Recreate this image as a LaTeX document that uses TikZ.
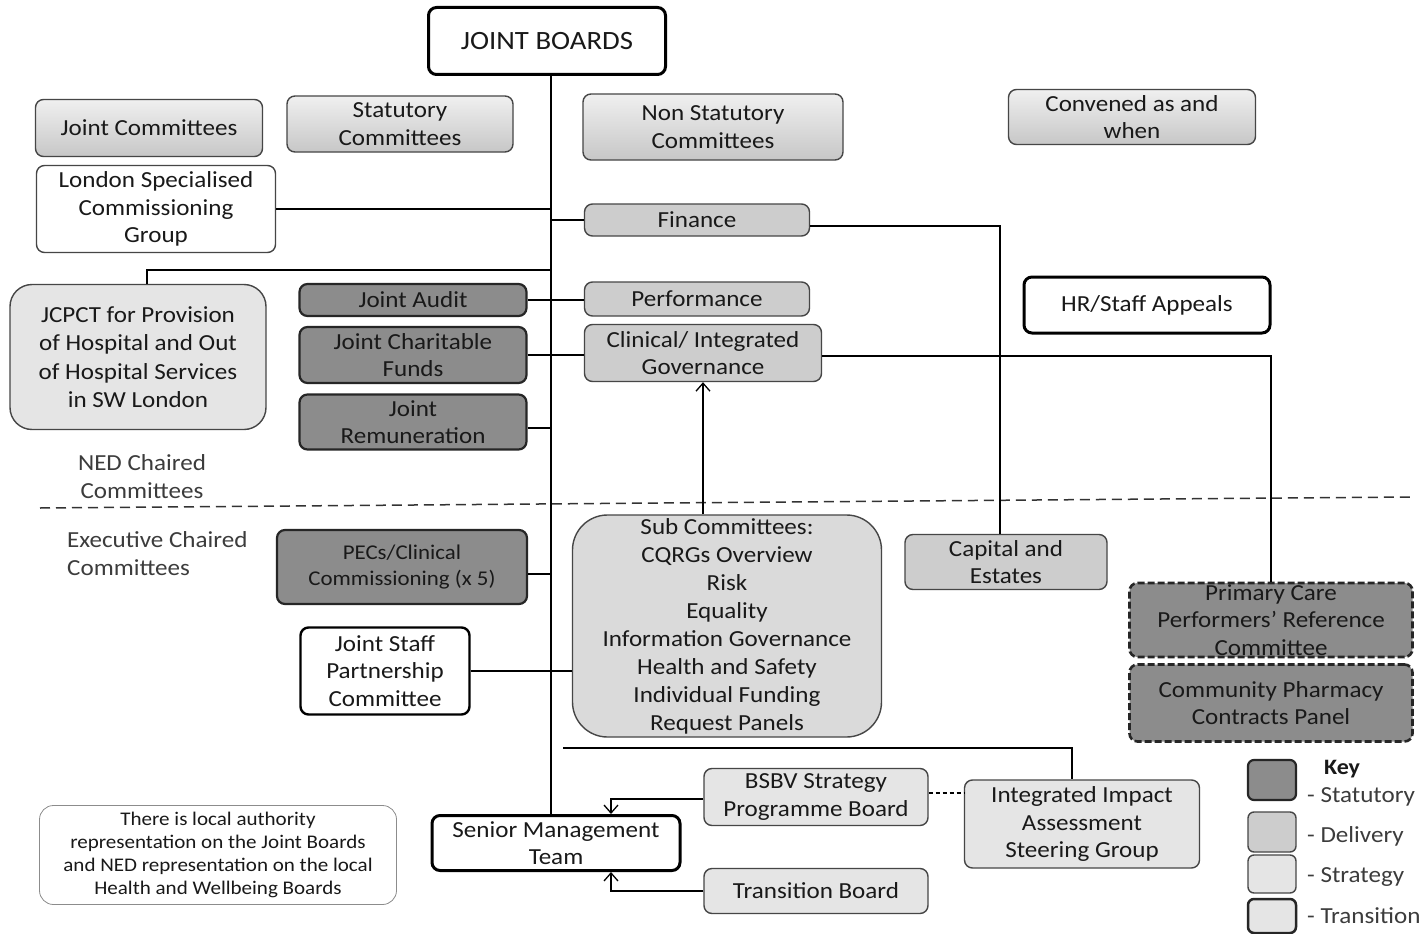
\documentclass[tikz,border=0pt]{standalone}
\usepackage{fontspec}
\setmainfont{Carlito}[FakeStretch=1.09]
\usetikzlibrary{arrows.meta}
\definecolor{statfill}{RGB}{140,140,140}
\definecolor{delivfill}{RGB}{205,205,205}
\definecolor{stratfill}{RGB}{229,229,229}
\definecolor{subfill}{RGB}{218,218,218}
\definecolor{bordc}{RGB}{70,70,70}
\definecolor{labc}{RGB}{60,60,60}
\definecolor{txtc}{RGB}{25,25,25}
\begin{document}
\begin{tikzpicture}[x=1pt,y=-1pt,
  box/.style={draw=bordc, line width=1.4pt, rounded corners=8pt, inner sep=0pt, align=center, text=txtc, font=\fontsize{23}{27.5}\selectfont},
  stat/.style={box, fill=statfill, draw=black!85, line width=2.2pt},
  deliv/.style={box, fill=delivfill},
  strat/.style={box, fill=stratfill},
  grad/.style={box, top color=white!94!black, bottom color=black!22},
  thickbox/.style={box, fill=white, draw=black, line width=3pt},
  plainbox/.style={box, fill=white},
  dashbox/.style={box, fill=statfill, draw=black!85, line width=2.6pt, dash pattern=on 7pt off 3pt},
  conn/.style={draw=black, line width=1.2pt},
  arr/.style={conn, -{Straight Barb[length=8pt,width=14pt,line width=1.3pt]}},
  lbl/.style={inner sep=0pt, align=center, font=\fontsize{23}{28}\selectfont, text=labc}
]
\useasboundingbox (0,0) rectangle (1422,934);
\fill[white] (0,0) rectangle (1422,934);

% top row
\node[thickbox, minimum width=237pt, minimum height=67pt, font=\fontsize{26.4}{30}\selectfont] (jb) at (547,41) {JOINT BOARDS};
\node[grad, minimum width=227pt, minimum height=57pt] (jc) at (149,128) {Joint Committees};
\node[grad, minimum width=226pt, minimum height=56pt] (sc) at (400,124) {Statutory\\Committees};
\node[grad, minimum width=260pt, minimum height=66pt] (nsc) at (713,127) {Non Statutory\\Committees};
\node[grad, minimum width=247pt, minimum height=55pt] (cav) at (1132,117) {Convened as and\\when};

% NED chaired area
\node[plainbox, minimum width=239pt, minimum height=87pt] (lscg) at (156,209) {London Specialised\\Commissioning\\Group};
\node[deliv, minimum width=225pt, minimum height=32pt] (fin) at (697,220) {Finance};
\node[strat, rounded corners=22pt, minimum width=256pt, minimum height=145pt, font=\fontsize{23}{28.5}\selectfont] (jcpct) at (138,357) {JCPCT for Provision\\of Hospital and Out\\of Hospital Services\\in SW London};
\node[stat, minimum width=227pt, minimum height=32pt] (ja) at (413,300) {Joint Audit};
\node[stat, minimum width=227pt, minimum height=56pt] (jcf) at (413,355) {Joint Charitable\\Funds};
\node[stat, minimum width=227pt, minimum height=55pt] (jr) at (413,422) {Joint\\Remuneration};
\node[deliv, minimum width=225pt, minimum height=34pt] (perf) at (697,299) {Performance};
\node[deliv, minimum width=237pt, minimum height=57pt] (cig) at (703,353) {Clinical/ Integrated\\Governance};
\node[thickbox, minimum width=246pt, minimum height=56pt] (hr) at (1147,305) {HR/Staff Appeals};
\node[lbl] (ned) at (142,477) {NED Chaired\\Committees};

% divider
\draw[line width=1.5pt, draw=black!80, dash pattern=on 10pt off 6pt] (40,508) -- (1410,497);

% Executive chaired area
\node[lbl, align=left, anchor=west] (exec) at (67,554) {Executive Chaired\\Committees};
\node[stat, minimum width=250pt, minimum height=74pt, font=\fontsize{21}{26}\selectfont] (pecs) at (402,567) {PECs/Clinical\\Commissioning (x 5)};
\node[plainbox, draw=black, line width=2.4pt, minimum width=169pt, minimum height=87pt] (jspc) at (385,671) {Joint Staff\\Partnership\\Committee};
\node[box, fill=subfill, rounded corners=35pt, minimum width=309pt, minimum height=222pt, font=\fontsize{23}{28}\selectfont] (sub) at (727,626) {Sub Committees:\\CQRGs Overview\\Risk\\Equality\\Information Governance\\Health and Safety\\Individual Funding\\Request Panels};
\node[deliv, minimum width=202pt, minimum height=55pt] (cap) at (1006,562) {Capital and\\Estates};
\node[dashbox, minimum width=283pt, minimum height=74pt] (pcp) at (1271,620) {Primary Care\\Performers' Reference\\Committee};
\node[dashbox, minimum width=283pt, minimum height=77pt] (cpp) at (1271,703) {Community Pharmacy\\Contracts Panel};

% bottom area
\node[strat, minimum width=224pt, minimum height=57pt] (bsbv) at (816,797) {BSBV Strategy\\Programme Board};
\node[strat, minimum width=235pt, minimum height=88pt] (iia) at (1082,824) {Integrated Impact\\Assessment\\Steering Group};
\node[thickbox, minimum width=248pt, minimum height=55pt] (smt) at (556,843) {Senior Management\\Team};
\node[strat, minimum width=224pt, minimum height=45pt] (tb) at (816,891) {Transition Board};
\node[box, draw=black!45, line width=0.8pt, fill=white, rounded corners=14pt, minimum width=357pt, minimum height=99pt, font=\fontsize{19.3}{23}\selectfont] (note) at (218,855) {There is local authority\\representation on the Joint Boards\\and NED representation on the local\\Health and Wellbeing Boards};

% key
\node[stat, rounded corners=6pt, minimum width=48pt, minimum height=40pt] (k1) at (1272,780) {};
\node[deliv, rounded corners=6pt, minimum width=48pt, minimum height=40pt] (k2) at (1272,832) {};
\node[strat, rounded corners=6pt, minimum width=48pt, minimum height=38pt] (k3) at (1272,874) {};
\node[box, fill=stratfill, draw=black!85, line width=2.5pt, rounded corners=6pt, minimum width=48pt, minimum height=34pt] (k4) at (1272,916) {};
\node[lbl, anchor=west, text=txtc, font=\fontsize{22}{28}\selectfont\bfseries] (kt) at (1324,769) {Key};
\node[lbl, anchor=west] (kl1) at (1307,797) {- Statutory};
\node[lbl, anchor=west] (kl2) at (1307,836) {- Delivery};
\node[lbl, anchor=west] (kl3) at (1307,877) {- Strategy};
\node[lbl, anchor=west] (kl4) at (1307,916) {- Transition};

% connectors
\coordinate (spine) at (551,0);
\coordinate (jtop) at (147,270);
\coordinate (hl) at (563,748);
\coordinate (ax) at (611,0);
\draw[conn] (jb.south -| spine) -- (smt.north -| spine);
\draw[conn] (lscg.east) -- (lscg.east -| spine);
\draw[conn] (fin.west -| spine) -- (fin.west);
\draw[conn] (jcpct.north -| jtop) -- (jtop) -- (jtop -| spine);
\draw[conn] (ja.east) -- (ja.east -| perf.west);
\draw[conn] (jcf.east) -- (jcf.east -| cig.west);
\draw[conn] ([yshift=-6pt]jr.east) -- ([yshift=-6pt]jr.east -| spine);
\draw[conn] ([yshift=-6pt]fin.east) -| ([xshift=-6pt]cap.north);
\draw[conn] ([yshift=-3pt]cig.east) -| (pcp.north);
\draw[arr] (sub.north -| cig.south) -- (cig.south);
\draw[conn] ([yshift=-7pt]pecs.east) -- ([yshift=-7pt]pecs.east -| spine);
\draw[conn] (jspc.east) -- (jspc.east -| sub.west);
\draw[conn] (hl) -| ([xshift=-10pt]iia.north);
\draw[conn, dash pattern=on 4pt off 3pt] ([yshift=4pt]bsbv.east) -- ([yshift=4pt]bsbv.east -| iia.west);
\draw[arr] ([yshift=-2pt]bsbv.west) -| (smt.north -| ax);
\draw[arr] (tb.west) -| (smt.south -| ax);
\end{tikzpicture}
\end{document}
